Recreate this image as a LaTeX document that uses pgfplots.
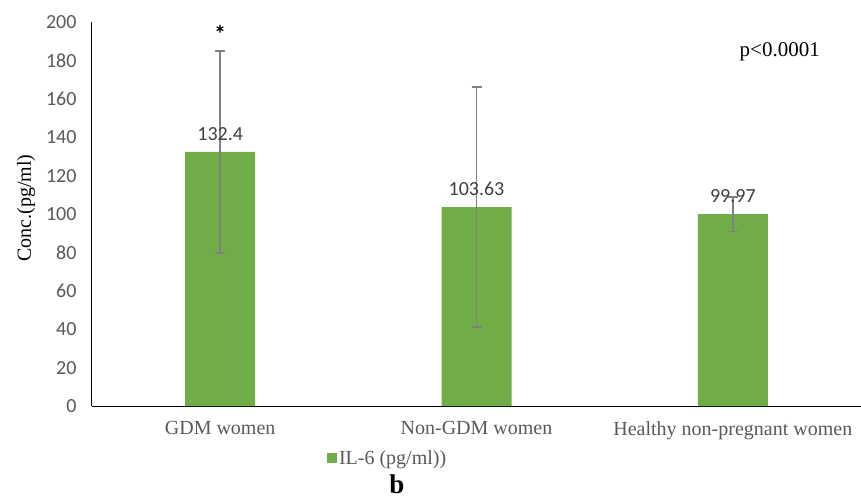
\documentclass[border=0pt]{standalone}
\usepackage{fontspec}
\setmainfont{Liberation Serif}
\newfontfamily\calib{Carlito}
\usepackage{pgfplots}
\pgfplotsset{compat=1.18}
\definecolor{barGreen}{HTML}{70AD47}
\definecolor{errGrey}{HTML}{808080}
\definecolor{tickGrey}{HTML}{595959}
\definecolor{lblGrey}{HTML}{404040}
\begin{document}
\begin{tikzpicture}
\useasboundingbox (-92pt,-97pt) rectangle (769pt,406pt);
\begin{axis}[
  scale only axis,
  width=769pt, height=384pt,
  xmin=-0.5, xmax=2.5, ymin=0, ymax=200,
  axis lines*=left,
  axis line style={black, line width=1pt},
  clip=false,
  ybar, bar width=70pt,
  xtick={0,1,2},
  xticklabels={GDM women, Non-GDM women, Healthy non-pregnant women},
  ytick distance=20,
  major tick length=0pt,
  /pgf/number format/assume math mode=true,
  yticklabel style={font=\calib\fontsize{20}{22}\selectfont, text=tickGrey, xshift=-12pt},
  xticklabel style={font=\fontsize{20}{23}\selectfont, text=tickGrey, yshift=-12pt},
  nodes near coords,
  every node near coord/.append style={font=\calib\fontsize{20}{22}\selectfont, text=lblGrey, yshift=8pt},
  legend style={at={(0.3056,-0.135)}, anchor=west, draw=none, inner sep=0pt, outer sep=0pt,
    font=\fontsize{20}{23}\selectfont, text=tickGrey, cells={anchor=west}},
  legend image code/.code={\fill[barGreen] (0pt,-5.5pt) rectangle (10pt,4.5pt);},
]
\addplot[fill=barGreen, draw=none,
  error bars/.cd, y dir=both, y explicit,
  error bar style={color=errGrey, line width=1.5pt},
  error mark options={rotate=90, mark size=5pt, line width=1.5pt, errGrey}]
  table[x=x, y=y, y error=e] {
x y e
0 132.4 52.6
1 103.63 62.5
2 99.97 9
};
\addlegendentry{IL-6 (pg/ml))}
\node[font=\calib\fontsize{24}{26}\selectfont\bfseries] at (axis cs:0,194) {*};
\node[font=\fontsize{21}{24}\selectfont] at (axis cs:2.183,184.4) {p<0.0001};
\node[font=\fontsize{27}{29}\selectfont\bfseries, anchor=base, inner sep=0pt] at (axis cs:0.689,-45.8) {b};
\end{axis}
\node[rotate=90, font=\fontsize{20}{23}\selectfont] at (-66pt,198pt) {Conc.(pg/ml)};
\end{tikzpicture}
\end{document}
